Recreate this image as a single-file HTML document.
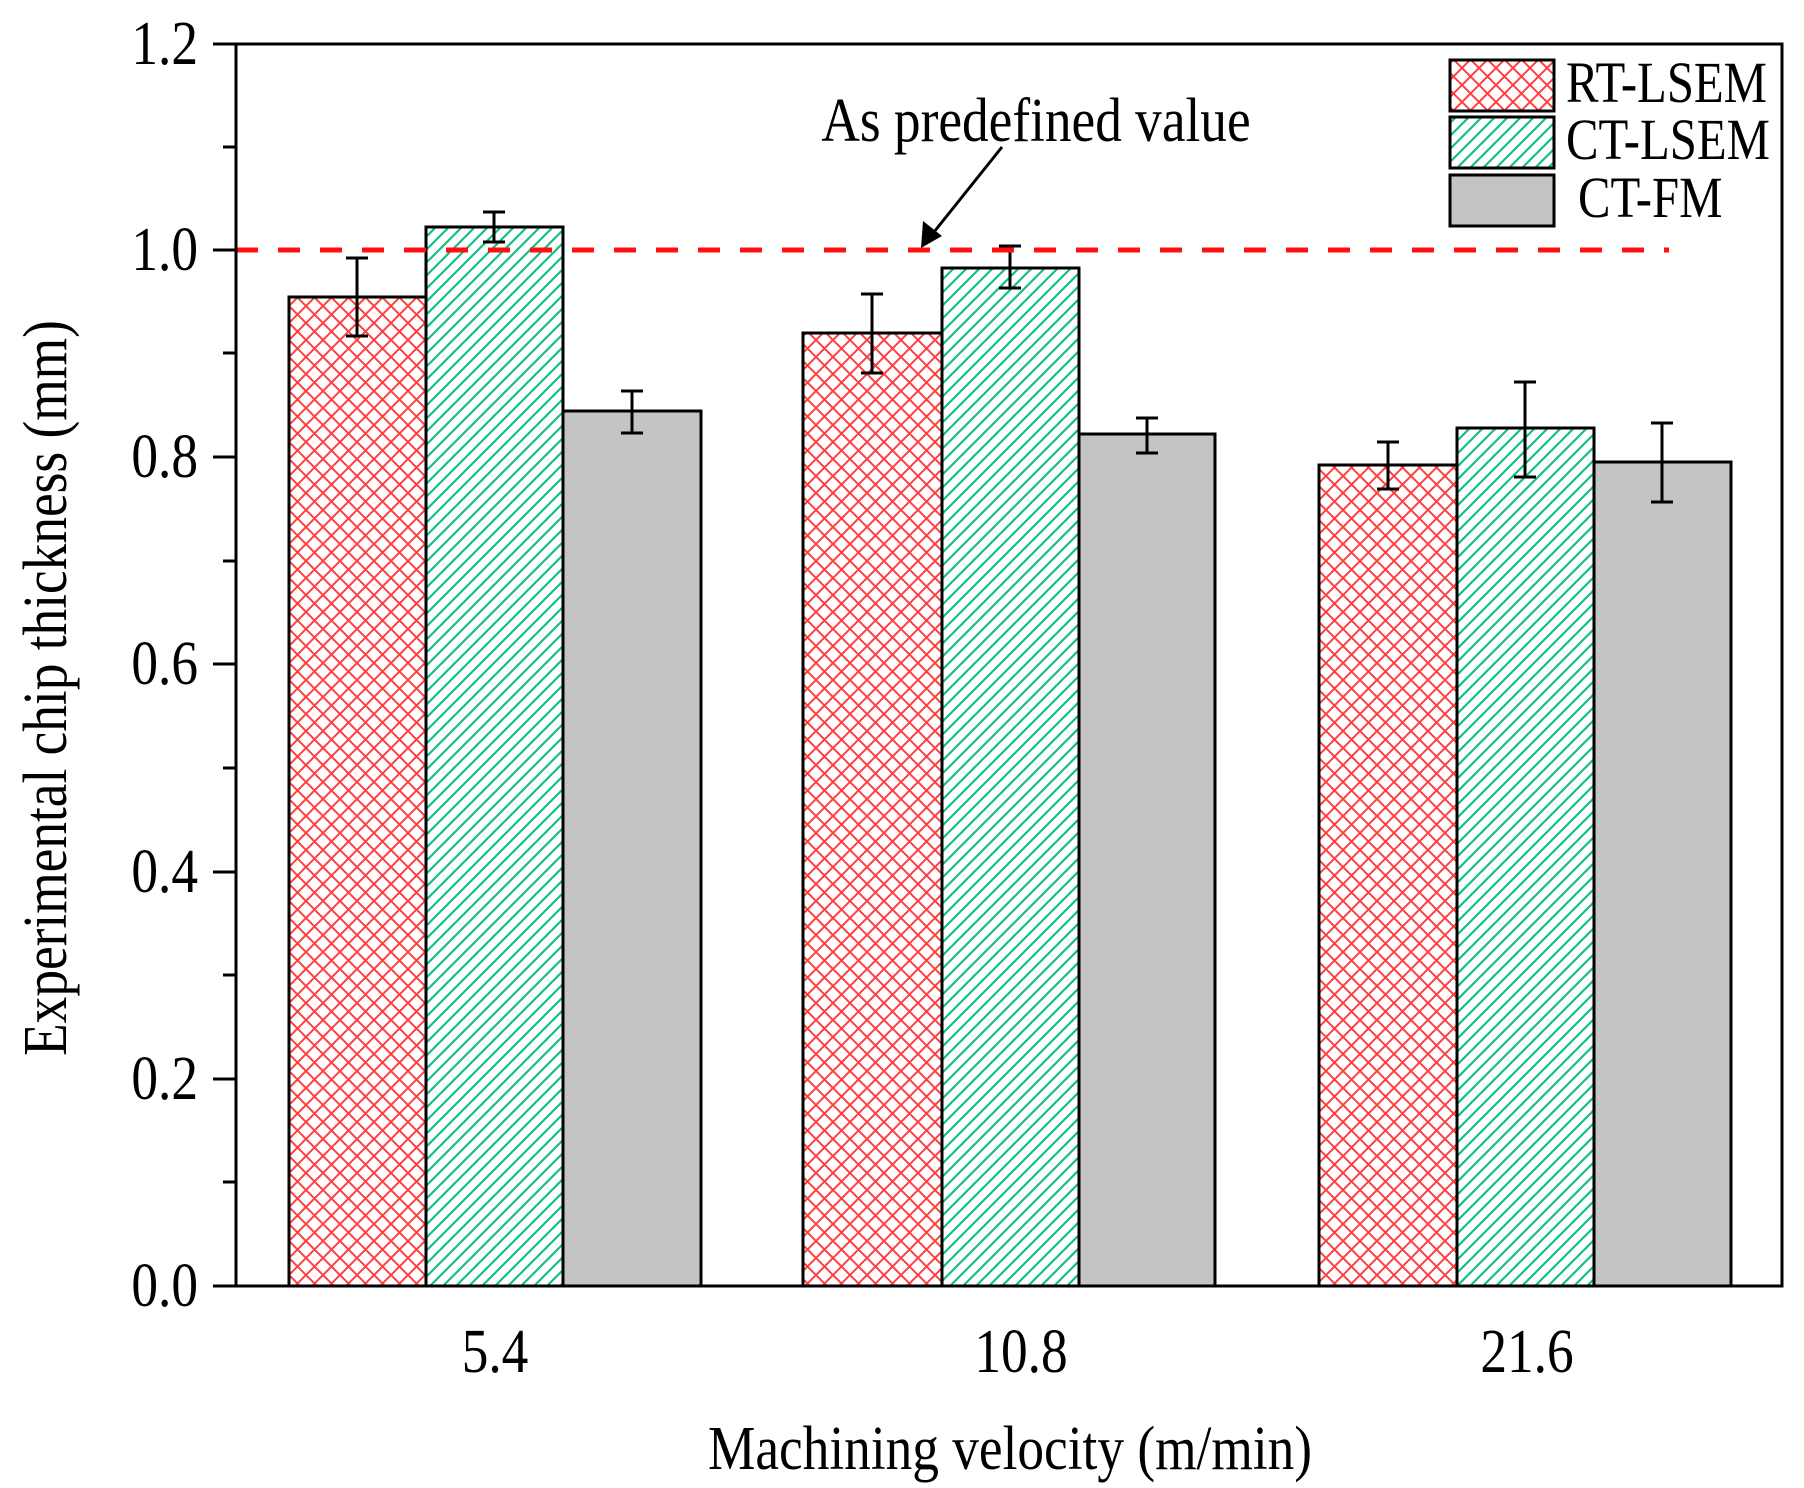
<!DOCTYPE html>
<html><head><meta charset="utf-8"><style>html,body{margin:0;padding:0;background:#fff}svg{display:block}</style></head>
<body>
<svg width="1804" height="1488" viewBox="0 0 1804 1488" xmlns="http://www.w3.org/2000/svg" font-family="Liberation Serif, serif">
<defs>
<pattern id="cross" width="17" height="17" patternUnits="userSpaceOnUse">
<path d="M0,0 L17,17 M17,0 L0,17" stroke="#ff4040" stroke-width="2"/>
</pattern>
<pattern id="diag" width="13" height="13" patternUnits="userSpaceOnUse">
<path d="M-2,15 L15,-2 M-4,4 L4,-4 M9,17 L17,9" stroke="#10c088" stroke-width="2.2"/>
</pattern>
</defs>
<rect width="1804" height="1488" fill="#fff"/>
<g stroke="#000" stroke-width="3">
<rect x="289" y="297" width="137" height="989" fill="url(#cross)"/>
<rect x="426" y="227" width="137" height="1059" fill="url(#diag)"/>
<rect x="563" y="411" width="138" height="875" fill="#c4c4c4"/>
<rect x="803" y="333" width="139" height="953" fill="url(#cross)"/>
<rect x="942" y="268" width="137" height="1018" fill="url(#diag)"/>
<rect x="1079" y="434" width="136" height="852" fill="#c4c4c4"/>
<rect x="1319" y="465" width="138" height="821" fill="url(#cross)"/>
<rect x="1457" y="428" width="137" height="858" fill="url(#diag)"/>
<rect x="1594" y="462" width="137" height="824" fill="#c4c4c4"/>
</g>
<g stroke="#000" stroke-width="3" fill="none">
<path d="M357,258V336M346,258H368M346,336H368"/>
<path d="M494,212V242M483,212H505M483,242H505"/>
<path d="M632,391V433M621,391H643M621,433H643"/>
<path d="M872,294V373M861,294H883M861,373H883"/>
<path d="M1010,246V288M999,246H1021M999,288H1021"/>
<path d="M1147,418V453M1136,418H1158M1136,453H1158"/>
<path d="M1388,442V489M1377,442H1399M1377,489H1399"/>
<path d="M1525,382V477M1514,382H1536M1514,477H1536"/>
<path d="M1662,423V502M1651,423H1673M1651,502H1673"/>
</g>
<line x1="236" y1="250" x2="1669" y2="250" stroke="#ff1010" stroke-width="5" stroke-dasharray="22,20"/>
<rect x="236" y="44" width="1546" height="1242" fill="none" stroke="#000" stroke-width="3"/>
<g stroke="#000" stroke-width="3">
<path d="M213,1286H236M213,1079H236M213,872H236M213,664H236M213,457H236M213,250H236M213,44H236"/>
<path d="M223,1182H236M223,975H236M223,768H236M223,561H236M223,353H236M223,147H236"/>
</g>
<g font-size="62" text-anchor="end" fill="#000">
<text transform="translate(198,1306) scale(0.86,1)">0.0</text>
<text transform="translate(198,1099) scale(0.86,1)">0.2</text>
<text transform="translate(198,892) scale(0.86,1)">0.4</text>
<text transform="translate(198,684) scale(0.86,1)">0.6</text>
<text transform="translate(198,477) scale(0.86,1)">0.8</text>
<text transform="translate(198,270) scale(0.86,1)">1.0</text>
<text transform="translate(198,64) scale(0.86,1)">1.2</text>
</g>
<g font-size="62" text-anchor="middle" fill="#000">
<text transform="translate(495,1372) scale(0.86,1)">5.4</text>
<text transform="translate(1021,1372) scale(0.86,1)">10.8</text>
<text transform="translate(1527,1372) scale(0.86,1)">21.6</text>
<text transform="translate(1010,1469) scale(0.86,1)">Machining velocity (m/min)</text>
<text transform="translate(66,688) rotate(-90) scale(0.86,1)">Experimental chip thickness (mm)</text>
<text transform="translate(1036,141) scale(0.86,1)">As predefined value</text>
</g>
<line x1="1002" y1="147" x2="930" y2="237" stroke="#000" stroke-width="3"/>
<polygon points="921,248 923,221 942,236" fill="#000"/>
<g stroke="#000" stroke-width="3">
<rect x="1450" y="60" width="104" height="51" fill="url(#cross)"/>
<rect x="1450" y="117" width="104" height="51" fill="url(#diag)"/>
<rect x="1450" y="175" width="104" height="51" fill="#c4c4c4"/>
</g>
<g font-size="58" fill="#000">
<text transform="translate(1566,102) scale(0.84,1)">RT-LSEM</text>
<text transform="translate(1566,159) scale(0.84,1)">CT-LSEM</text>
<text transform="translate(1578,217) scale(0.84,1)">CT-FM</text>
</g>
</svg>
</body></html>
